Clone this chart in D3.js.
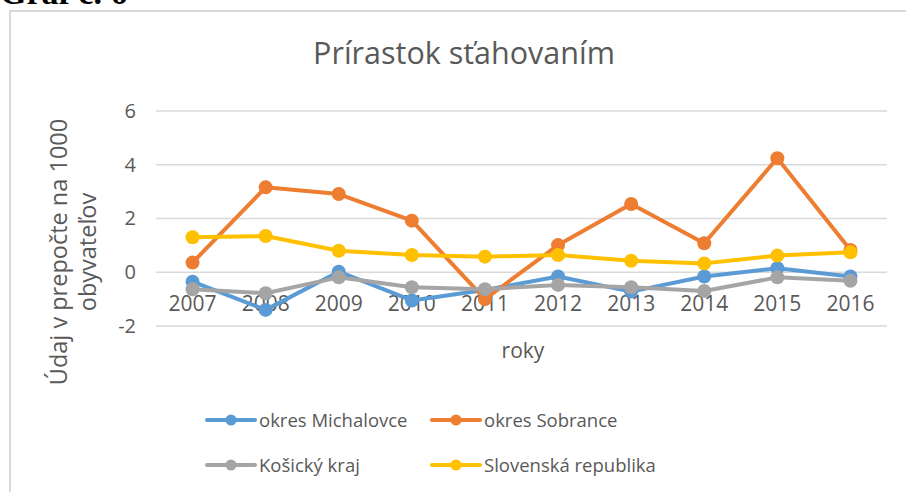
<!DOCTYPE html>
<html>
<head>
<meta charset="utf-8">
<script src="https://cdn.jsdelivr.net/npm/d3@7"></script>
<style>
  body { margin: 0; background: #fff; }
  svg { display: block; }
</style>
</head>
<body>
<div class="canvas"></div>
<script>
const years = ['2007', '2008', '2009', '2010', '2011', '2012', '2013', '2014', '2015', '2016'];
const yTicks = [-2, 0, 2, 4, 6];

const michalovce = [-0.35, -1.40, 0.02, -1.05, -0.66, -0.16, -0.72, -0.16, 0.15, -0.16];
const sobrance = [0.36, 3.16, 2.91, 1.92, -1.00, 1.01, 2.54, 1.08, 4.24, 0.83];
const kosickyKraj = [-0.63, -0.78, -0.19, -0.56, -0.63, -0.47, -0.56, -0.70, -0.19, -0.32];
const slovensko = [1.30, 1.35, 0.80, 0.64, 0.58, 0.64, 0.43, 0.33, 0.62, 0.74];

const seriesNames = ['okres Michalovce', 'okres Sobrance', 'Košický kraj', 'Slovenská republika'];
const seriesColors = ['#5B9BD5', '#ED7D31', '#A5A5A5', '#FFC000'];

const series = [michalovce, sobrance, kosickyKraj, slovensko]
    .map((values, i) => ({ name: seriesNames[i], colour: seriesColors[i], values }));

const dims = { width: 906, height: 492 };
const plot = { left: 156, right: 887, top: 111, bottom: 326 };
const font = '"Open Sans", sans-serif';
const textCol = '#595959';

const svg = d3.select('.canvas')
    .append('svg')
    .attr('width', dims.width)
    .attr('height', dims.height)
;

// chart frame (right and bottom edges fall outside the window)
svg.append('rect')
    .attr('x', 10).attr('y', 11)
    .attr('width', 910).attr('height', 500)
    .attr('fill', 'none')
    .attr('stroke', '#d9d9d9')
    .attr('stroke-width', 2);

// caption above the frame, cut off at the top
svg.append('text')
    .attr('x', 0).attr('y', 4)
    .attr('font-family', '"Liberation Serif", serif')
    .attr('font-weight', 'bold')
    .attr('font-size', 34)
    .attr('fill', '#000')
    .text('Graf č. 6');

const x = d3.scaleBand()
    .domain(years)
    .range([plot.left, plot.right]);

const y = d3.scaleLinear()
    .domain([-2, 6])
    .range([plot.bottom, plot.top]);

// gridlines
svg.append('g')
    .selectAll('line')
    .data(yTicks)
    .enter()
    .append('line')
    .attr('x1', plot.left).attr('x2', plot.right)
    .attr('y1', d => y(d)).attr('y2', d => y(d))
    .attr('stroke', '#d9d9d9')
    .attr('stroke-width', 1.3);

// y axis labels (plain hyphen minus like the original)
const yAxis = d3.axisLeft(y)
    .tickValues(yTicks)
    .tickFormat(d => String(d))
    .tickSize(0).tickPadding(0);
const yG = svg.append('g')
    .attr('transform', 'translate(136, 0)')
    .call(yAxis);
yG.select('.domain').remove();
yG.selectAll('text')
    .attr('font-family', font)
    .attr('font-size', 20)
    .attr('fill', textCol);

// x axis labels sit just under the zero line
const xAxis = d3.axisBottom(x).tickSize(0).tickPadding(0);
const xG = svg.append('g')
    .attr('transform', `translate(0, ${y(0) + 39})`)
    .call(xAxis);
xG.select('.domain').remove();
xG.selectAll('text')
    .attr('dy', 0)
    .attr('font-family', font)
    .attr('font-size', 21)
    .attr('fill', textCol);

// titles
svg.append('text')
    .attr('x', 464).attr('y', 64)
    .attr('text-anchor', 'middle')
    .attr('font-family', font)
    .attr('font-size', 30.5)
    .attr('fill', textCol)
    .text('Prírastok sťahovaním');

svg.append('text')
    .attr('x', 523).attr('y', 358)
    .attr('text-anchor', 'middle')
    .attr('font-family', font)
    .attr('font-size', 21)
    .attr('fill', textCol)
    .text('roky');

const yTitle = svg.append('text')
    .attr('transform', 'translate(67, 252) rotate(-90)')
    .attr('text-anchor', 'middle')
    .attr('font-family', font)
    .attr('font-size', 23.5)
    .attr('fill', textCol);
yTitle.append('tspan').attr('x', 0).attr('y', 0).text('Údaj v prepočte na 1000');
yTitle.append('tspan').attr('x', 0).attr('y', 29).text('obyvateľov');

// lines + markers
const cx = (d, i) => x(years[i]) + x.bandwidth() / 2;
const line = d3.line()
    .x(cx)
    .y(d => y(d));

const graph = svg.append('g');
series.forEach((s) => {
    const g = graph.append('g');
    g.append('path')
        .attr('d', line(s.values))
        .attr('fill', 'none')
        .attr('stroke', s.colour)
        .attr('stroke-width', 4)
        .attr('stroke-linejoin', 'round');
    g.selectAll('circle')
        .data(s.values)
        .enter()
        .append('circle')
        .attr('cx', cx)
        .attr('cy', d => y(d))
        .attr('r', 7)
        .attr('fill', s.colour);
});

// legend, 2 x 2
const legendPos = [
    { x: 207, y: 420 }, { x: 432, y: 420 },
    { x: 207, y: 465 }, { x: 432, y: 465 }
];
const legend = svg.append('g')
    .selectAll('g')
    .data(series)
    .enter()
    .append('g')
    .attr('transform', (d, i) => `translate(${legendPos[i].x}, ${legendPos[i].y})`);

legend.append('line')
    .attr('x1', 0).attr('x2', 48)
    .attr('stroke', d => d.colour)
    .attr('stroke-width', 4)
    .attr('stroke-linecap', 'round');
legend.append('circle')
    .attr('cx', 24).attr('r', 5.5)
    .attr('fill', d => d.colour);
legend.append('text')
    .attr('x', 52).attr('y', 6.5)
    .attr('font-family', font)
    .attr('font-size', 18.5)
    .attr('fill', textCol)
    .text(d => d.name);
</script>
</body>
</html>
